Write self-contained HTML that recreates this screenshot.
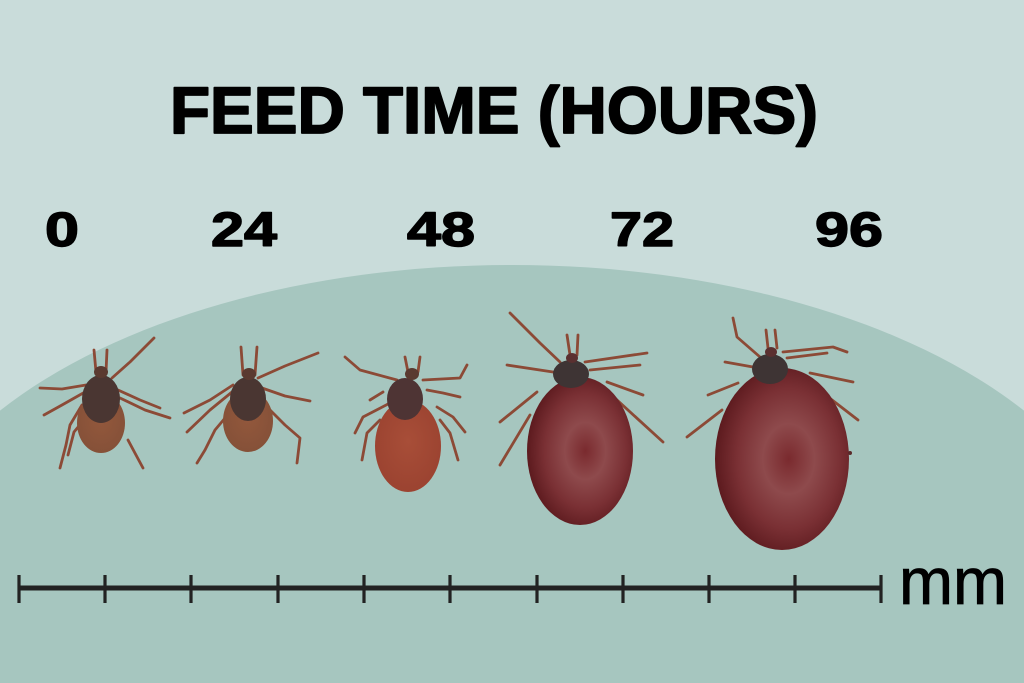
<!DOCTYPE html>
<html>
<head>
<meta charset="utf-8">
<style>
html,body{margin:0;padding:0;width:1024px;height:683px;overflow:hidden;background:#c9dcda;}
svg{display:block;position:absolute;left:0;top:0;overflow:hidden;}
</style>
</head>
<body>
<svg width="1024" height="683" viewBox="0 0 1024 683" xmlns="http://www.w3.org/2000/svg">
<defs>
  <radialGradient id="fat" cx="0.55" cy="0.5" r="0.55">
    <stop offset="0" stop-color="#7a2a2e"/>
    <stop offset="0.35" stop-color="#8e4a4c"/>
    <stop offset="0.7" stop-color="#7a3034"/>
    <stop offset="1" stop-color="#5c1a1e"/>
  </radialGradient>
  <radialGradient id="mid" cx="0.5" cy="0.45" r="0.6">
    <stop offset="0" stop-color="#a84e38"/>
    <stop offset="1" stop-color="#9a4230"/>
  </radialGradient>
  <radialGradient id="small" cx="0.5" cy="0.45" r="0.6">
    <stop offset="0" stop-color="#93583c"/>
    <stop offset="1" stop-color="#845038"/>
  </radialGradient>
</defs>
<rect width="1024" height="683" fill="#c9dcda"/>
<path d="M0,683 L0,410.6 A620,334 0 0 1 1024,410.6 L1024,683 Z" fill="#a6c6bf"/>

<text x="170" y="133" font-family="Liberation Sans, sans-serif" font-weight="900" font-size="66" textLength="648" lengthAdjust="spacingAndGlyphs" fill="#000" stroke="#000" stroke-width="1.8" stroke-linejoin="round">FEED TIME (HOURS)</text>

<g font-family="Liberation Sans, sans-serif" font-weight="900" font-size="48" fill="#000" stroke="#000" stroke-width="1.4" stroke-linejoin="round">
  <text x="45" y="246" textLength="34" lengthAdjust="spacingAndGlyphs">0</text>
  <text x="211" y="246" textLength="66" lengthAdjust="spacingAndGlyphs">24</text>
  <text x="407" y="246" textLength="68" lengthAdjust="spacingAndGlyphs">48</text>
  <text x="610" y="246" textLength="64" lengthAdjust="spacingAndGlyphs">72</text>
  <text x="815" y="246" textLength="68" lengthAdjust="spacingAndGlyphs">96</text>
</g>

<!-- ticks legs -->
<g fill="none" stroke="#8c4a36" stroke-width="2.8" stroke-linecap="round" stroke-linejoin="round">
  <!-- tick 1 -->
  <path d="M112,378 L130,362 L154,338"/>
  <path d="M86,385 L62,389 L40,388"/>
  <path d="M85,392 L62,405 L44,415"/>
  <path d="M82,405 L70,425 L66,445 L60,468"/>
  <path d="M88,415 L74,432 L68,455"/>
  <path d="M118,390 L140,400 L160,408"/>
  <path d="M120,398 L145,410 L170,418"/>
  <path d="M128,440 L136,455 L143,468"/>
  <path d="M96,372 L94,350"/>
  <path d="M106,372 L107,350"/>
  <!-- tick 2 -->
  <path d="M258,378 L285,366 L318,353"/>
  <path d="M262,388 L285,396 L310,401"/>
  <path d="M267,407 L285,425 L300,438 L297,463"/>
  <path d="M233,385 L210,400 L184,413"/>
  <path d="M232,392 L210,410 L187,432"/>
  <path d="M236,405 L215,430 L205,450 L197,463"/>
  <path d="M243,375 L241,347"/>
  <path d="M255,375 L257,347"/>
  <!-- tick 3 -->
  <path d="M397,380 L360,370 L345,357"/>
  <path d="M423,380 L460,378 L467,365"/>
  <path d="M383,392 L370,400"/>
  <path d="M390,403 L363,417 L355,433"/>
  <path d="M380,420 L367,433 L362,460"/>
  <path d="M427,390 L443,393 L460,397"/>
  <path d="M437,407 L453,417 L465,432"/>
  <path d="M440,420 L450,433 L458,460"/>
  <path d="M405,357 L408,372"/>
  <path d="M420,357 L418,372"/>
  <!-- tick 4 -->
  <path d="M560,362 L540,343 L510,313"/>
  <path d="M553,372 L507,365"/>
  <path d="M537,392 L500,422"/>
  <path d="M530,415 L500,465"/>
  <path d="M585,362 L647,353"/>
  <path d="M590,370 L640,365"/>
  <path d="M607,382 L643,395"/>
  <path d="M617,400 L663,442"/>
  <path d="M567,335 L570,355"/>
  <path d="M578,335 L577,355"/>
  <!-- tick 5 -->
  <path d="M760,357 L737,337 L733,318"/>
  <path d="M753,367 L725,362"/>
  <path d="M738,383 L708,395"/>
  <path d="M722,410 L687,437"/>
  <path d="M783,352 L833,347 L847,352"/>
  <path d="M787,358 L827,353"/>
  <path d="M810,373 L853,382"/>
  <path d="M823,393 L858,420"/>
  <path d="M766,330 L768,348"/>
  <path d="M775,330 L777,348"/>
</g>

<!-- bodies -->
<ellipse cx="101" cy="423" rx="24" ry="30" fill="url(#small)"/>
<ellipse cx="101" cy="399" rx="19" ry="24" fill="#4a3632"/>
<ellipse cx="101" cy="372" rx="7" ry="6" fill="#5a3a30"/>

<ellipse cx="248" cy="421" rx="25" ry="31" fill="url(#small)"/>
<ellipse cx="248" cy="399" rx="18" ry="22" fill="#4a3632"/>
<ellipse cx="249" cy="374" rx="7" ry="6" fill="#5a3a30"/>

<ellipse cx="408" cy="446" rx="33" ry="46" fill="url(#mid)"/>
<ellipse cx="405" cy="399" rx="18" ry="21" fill="#4e3434"/>
<ellipse cx="412" cy="374" rx="7" ry="6" fill="#5a3a30"/>

<ellipse cx="580" cy="451" rx="53" ry="74" fill="url(#fat)"/>
<ellipse cx="571" cy="374" rx="18" ry="14" fill="#3e3434"/>
<ellipse cx="572" cy="358" rx="6" ry="5" fill="#5a3030"/>

<ellipse cx="782" cy="459" rx="67" ry="91" fill="url(#fat)"/>
<ellipse cx="770" cy="369" rx="18" ry="15" fill="#3e3434"/>
<ellipse cx="771" cy="352" rx="6" ry="5" fill="#5a3030"/>
<circle cx="850" cy="453" r="2" fill="#5a2a2a"/>

<!-- scale bar -->
<g stroke="#222" fill="none">
  <line x1="18" y1="588" x2="882" y2="588" stroke-width="5"/>
  <g stroke-width="3.2">
    <line x1="19" y1="575" x2="19" y2="603"/>
    <line x1="105" y1="575" x2="105" y2="603"/>
    <line x1="191" y1="575" x2="191" y2="603"/>
    <line x1="278" y1="575" x2="278" y2="603"/>
    <line x1="364" y1="575" x2="364" y2="603"/>
    <line x1="450" y1="575" x2="450" y2="603"/>
    <line x1="537" y1="575" x2="537" y2="603"/>
    <line x1="623" y1="575" x2="623" y2="603"/>
    <line x1="709" y1="575" x2="709" y2="603"/>
    <line x1="795" y1="575" x2="795" y2="603"/>
    <line x1="881" y1="575" x2="881" y2="603"/>
  </g>
</g>
<text x="899" y="604" font-family="Liberation Sans, sans-serif" font-size="66" textLength="108" lengthAdjust="spacingAndGlyphs" fill="#000" stroke="#000" stroke-width="0.8">mm</text>
</svg>
</body>
</html>
